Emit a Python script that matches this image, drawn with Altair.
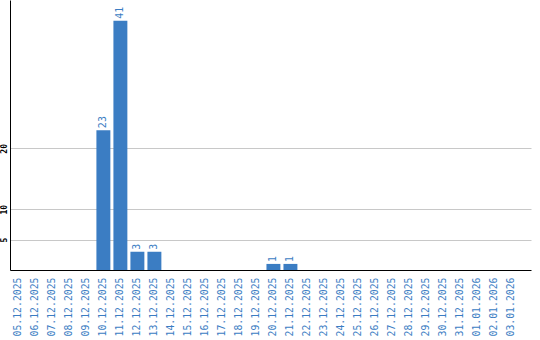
import altair as alt
import pandas as pd

dates = [
    "05.12.2025", "06.12.2025", "07.12.2025", "08.12.2025", "09.12.2025",
    "10.12.2025", "11.12.2025", "12.12.2025", "13.12.2025", "14.12.2025",
    "15.12.2025", "16.12.2025", "17.12.2025", "18.12.2025", "19.12.2025",
    "20.12.2025", "21.12.2025", "22.12.2025", "23.12.2025", "24.12.2025",
    "25.12.2025", "26.12.2025", "27.12.2025", "28.12.2025", "29.12.2025",
    "30.12.2025", "31.12.2025", "01.01.2026", "02.01.2026", "03.01.2026",
]
counts = [0, 0, 0, 0, 0, 23, 41, 3, 3, 0,
          0, 0, 0, 0, 0, 1, 1, 0, 0, 0,
          0, 0, 0, 0, 0, 0, 0, 0, 0, 0]
y_ticks = [5, 10, 20]

df = pd.DataFrame({"date": dates, "count": counts})

BLUE = "#3b7dc3"
FONT = "DejaVu Sans Mono"

x = alt.X(
    "date:N", sort=dates, title=None,
    scale=alt.Scale(paddingInner=0.18, paddingOuter=0.41, align=0.1),
    axis=alt.Axis(labelAngle=270, labelAlign="right", labelBaseline="middle",
                  labelPadding=7, ticks=False, domainColor="black", domainWidth=1,
                  labelColor=BLUE, labelFont=FONT, labelFontSize=9.8,
                  labelOverlap=False, grid=False),
)
y = alt.Y(
    "count:Q", title=None,
    scale=alt.Scale(domain=[0, 44.4], nice=False),
    axis=alt.Axis(values=y_ticks, labelAngle=270, labelAlign="center",
                  labelBaseline="bottom", labelPadding=2, ticks=False,
                  domainColor="black", domainWidth=1, labelColor="black",
                  labelFont=FONT, labelFontSize=8, labelFontWeight="bold",
                  gridColor="#c8c8c8", gridWidth=1),
)

bars = alt.Chart(df).mark_bar(color=BLUE).encode(x=x, y=y)
labels = alt.Chart(df).transform_filter("datum.count > 0").mark_text(
    angle=270, align="left", baseline="middle", dx=2,
    font=FONT, fontSize=10, color=BLUE,
).encode(x=alt.X("date:N", sort=dates), y="count:Q", text="count:Q")

chart = (bars + labels).properties(
    width=521, height=270,
    autosize=alt.AutoSizeParams(type="none"),
    padding={"left": 10, "top": 0, "right": 9, "bottom": 70},
).configure_view(stroke=None)

chart.save("out.html", embed_options={"renderer": "svg", "actions": False})
